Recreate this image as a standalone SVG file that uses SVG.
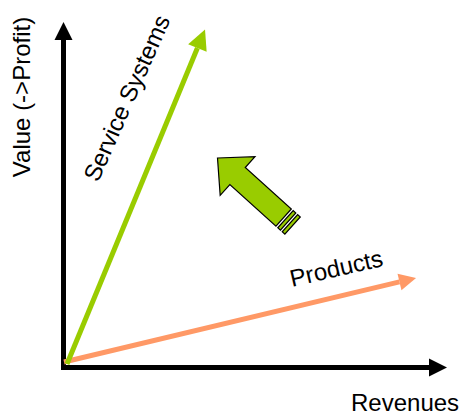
<svg xmlns="http://www.w3.org/2000/svg" width="460" height="415" viewBox="0 0 460 415">
<style>
.lbl{font-family:"Liberation Sans",Arial,sans-serif;font-size:24px;fill:#000}
.axis{stroke:#000;stroke-width:5;fill:none}
.green{stroke:#99CC00;stroke-width:5;fill:none}
.orange{stroke:#FF9966;stroke-width:5;fill:none}
.big{fill:#99CC00;stroke:#000;stroke-width:1.2;stroke-linejoin:miter}
</style>
<defs>
<marker id="hBlack" markerUnits="userSpaceOnUse" markerWidth="18" markerHeight="18" refX="0" refY="9" orient="auto" overflow="visible">
<path d="M0,0 L18,9 L0,18 z" fill="#000"/>
</marker>
<marker id="hGreen" markerUnits="userSpaceOnUse" markerWidth="20" markerHeight="20" refX="0" refY="10" orient="auto" overflow="visible">
<path d="M0,0 L20,10 L0,20 z" fill="#99CC00"/>
</marker>
<marker id="hOrange" markerUnits="userSpaceOnUse" markerWidth="17" markerHeight="17" refX="0" refY="8.5" orient="auto" overflow="visible">
<path d="M0,0 L17,8.5 L0,17 z" fill="#FF9966"/>
</marker>
</defs>
<g id="connectors">
<line id="y-axis" class="axis" x1="63.5" y1="370" x2="63.5" y2="40" marker-end="url(#hBlack)"/>
<line id="x-axis" class="axis" x1="61" y1="367.5" x2="429" y2="367.5" marker-end="url(#hBlack)"/>
<line id="products-line" class="orange" x1="64" y1="362" x2="399.5" y2="281.9" marker-end="url(#hOrange)"/>
<line id="service-line" class="green" x1="67" y1="364" x2="197.4" y2="48" marker-end="url(#hGreen)"/>
</g>
<g id="big-arrow" transform="translate(217.5,158) rotate(42)">
<polygon class="big" points="0,0 27,-26 27,-11.5 89,-11.5 89,11.5 27,11.5 27,26"/>
<rect class="big" x="91.5" y="-11.5" width="3.5" height="23"/>
<rect class="big" x="97.5" y="-11.5" width="3.5" height="23"/>
</g>
<g id="label-value"><text class="lbl" text-anchor="middle" transform="translate(29.5,97) rotate(-90)">Value (-&gt;Profit)</text></g>
<g id="label-revenues"><text class="lbl" x="351" y="411">Revenues</text></g>
<g id="label-service"><text class="lbl" transform="translate(98,183) rotate(-66)">Service Systems</text></g>
<g id="label-products"><text class="lbl" transform="translate(292,287) rotate(-13)">Products</text></g>
</svg>
